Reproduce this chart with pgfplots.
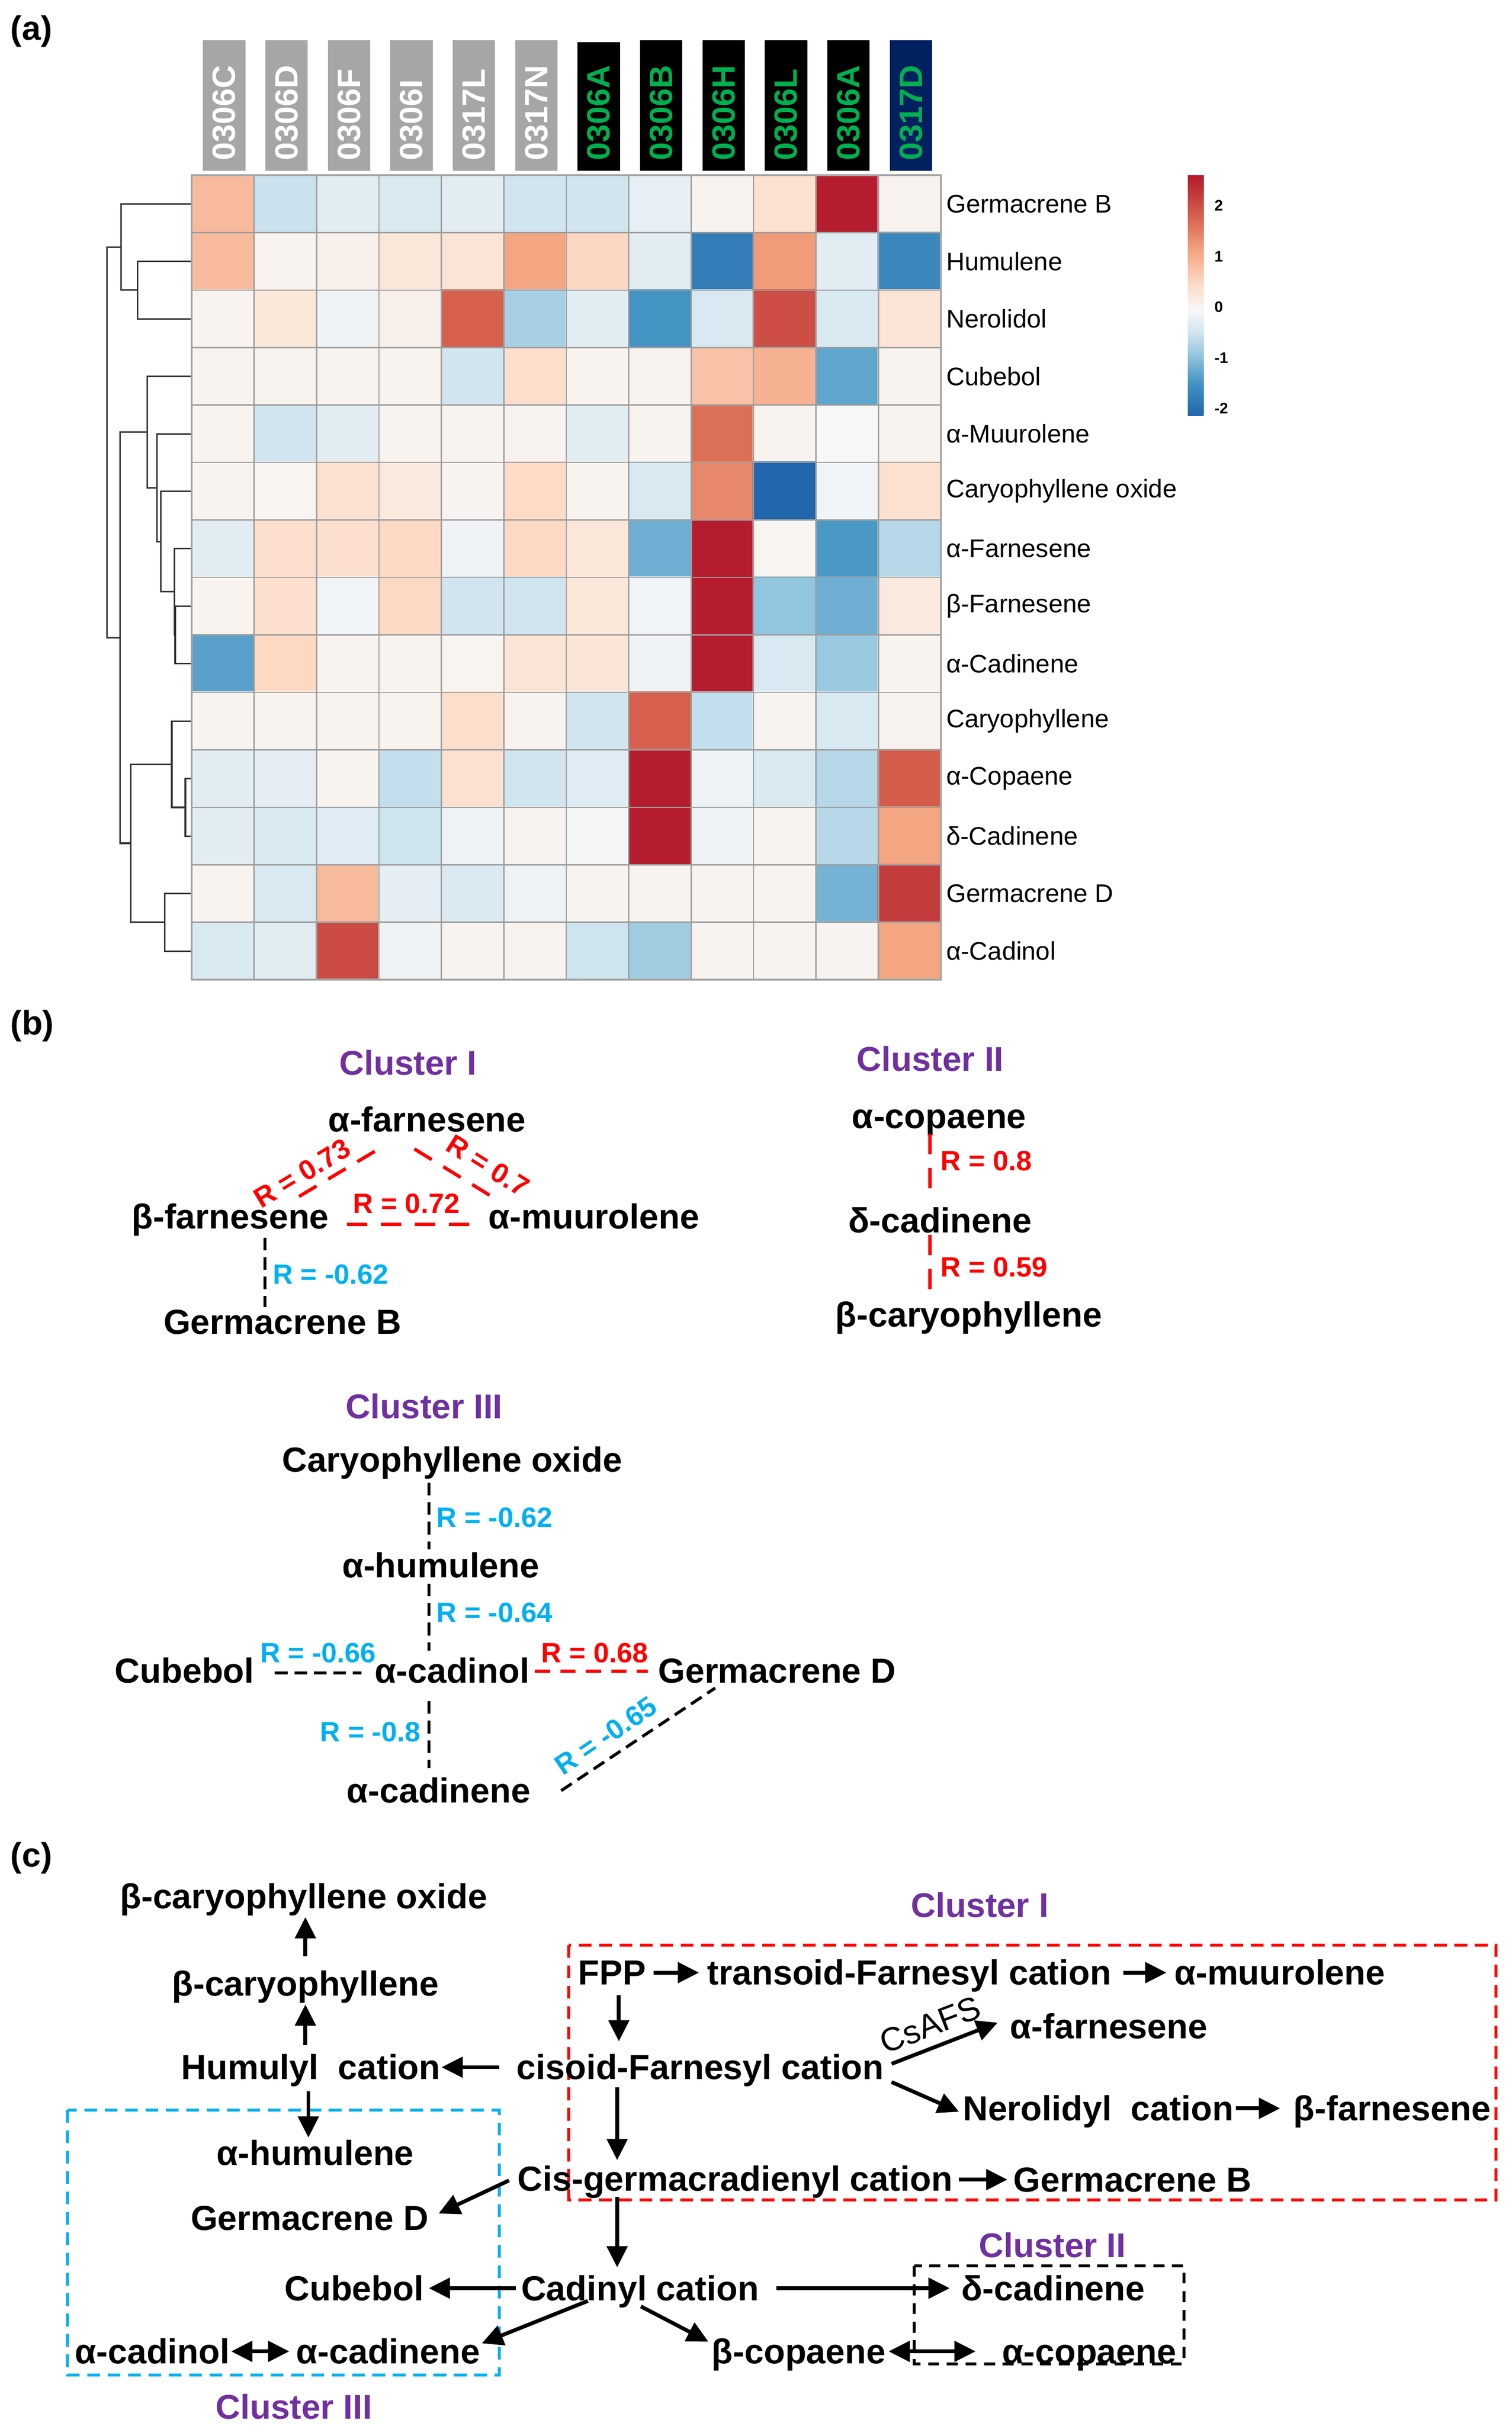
\documentclass[border=0pt]{standalone}
\usepackage{fontspec}
\setmainfont{Liberation Sans}
\usepackage{pgfplots}
\pgfplotsset{compat=1.18}
\usetikzlibrary{arrows.meta}
\definecolor{hgray}{HTML}{A6A6A6}
\definecolor{hgreen}{HTML}{00B050}
\definecolor{hnavy}{HTML}{002060}
\definecolor{cpurple}{HTML}{7030A0}
\definecolor{ccyan}{HTML}{00B0F0}
\definecolor{cred}{HTML}{FF0000}
\pgfplotsset{colormap={rdbu}{rgb255(0)=(33,102,172) rgb255(64)=(67,147,195) rgb255(119)=(146,197,222) rgb255(164)=(209,229,240) rgb255(209)=(247,247,247) rgb255(259)=(253,219,199) rgb255(324)=(244,165,130) rgb255(394)=(214,96,77) rgb255(475)=(178,24,43)}}
\begin{document}
\begin{tikzpicture}[
  nm/.style={font=\fontsize{8.2}{9.8}\selectfont\bfseries, anchor=base, inner sep=0pt},
  cl/.style={font=\fontsize{8.1}{9.7}\selectfont\bfseries, anchor=base, inner sep=0pt, text=cpurple},
  rl/.style={font=\fontsize{6.6}{7.9}\selectfont\bfseries, inner sep=0pt},
  pl/.style={font=\fontsize{8}{9.6}\selectfont\bfseries, anchor=base west, inner sep=0pt},
  hd/.style={font=\fontsize{7.6}{9}\selectfont\bfseries, rotate=90, anchor=west, inner sep=0pt},
  rdash/.style={cred, line width=0.8pt, dash pattern=on 4.8pt off 3.2pt},
  kdash/.style={black, line width=0.7pt, dash pattern=on 3pt off 1.6pt},
  arr/.style={black, line width=0.9pt, -{Triangle[length=5pt,width=4.8pt]}},
  darr/.style={black, line width=0.9pt, {Triangle[length=5pt,width=4.8pt]}-{Triangle[length=5pt,width=4.8pt]}},
  dg/.style={color=gray!40!black, line width=0.35pt, solid, no marks},
]
\useasboundingbox (0,0) rectangle (356.4pt,572pt);
\begin{axis}[at={(0,0)}, anchor=south west, width=356.4pt, height=572pt, scale only axis,
  xmin=0, xmax=3564, ymin=0, ymax=5720, y dir=reverse, hide axis, clip=false]
% ---------- dendrogram ----------
\addplot[dg] coordinates {(452,616.3)(324,616.3)(324,751.8)(452,751.8)};
\addplot[dg] coordinates {(452,480.8)(285,480.8)(285,684)(324,684)};
\addplot[dg] coordinates {(452,1429.3)(413,1429.3)(413,1564.8)(452,1564.8)};
\addplot[dg] coordinates {(452,1293.8)(411,1293.8)(411,1497)(413,1497)};
\addplot[dg] coordinates {(452,1158.3)(379,1158.3)(379,1395.4)(411,1395.4)};
\addplot[dg] coordinates {(452,1022.8)(370,1022.8)(370,1276.9)(379,1276.9)};
\addplot[dg] coordinates {(452,887.3)(347,887.3)(347,1149.8)(370,1149.8)};
\addplot[dg] coordinates {(452,1835.8)(437,1835.8)(437,1971.3)(452,1971.3)};
\addplot[dg] coordinates {(452,1700.3)(405,1700.3)(405,1903.6)(437,1903.6)};
\addplot[dg] coordinates {(452,2106.8)(388,2106.8)(388,2242.3)(452,2242.3)};
\addplot[dg] coordinates {(405,1802)(308,1802)(308,2174.6)(388,2174.6)};
\addplot[dg] coordinates {(347,1018.6)(283,1018.6)(283,1988.3)(308,1988.3)};
\addplot[dg] coordinates {(285,582.4)(252,582.4)(252,1503.5)(283,1503.5)};
% ---------- panel labels ----------
\node[pl] at (axis cs:23,94) {(a)};
\node[pl] at (axis cs:23,2440) {(b)};
\node[pl] at (axis cs:23,4402) {(c)};
% ---------- header boxes ----------
\fill[hgray] (axis cs:478.6,95) rectangle (axis cs:578.6,403);
\fill[hgray] (axis cs:625.8,95) rectangle (axis cs:725.8,403);
\fill[hgray] (axis cs:772.9,95) rectangle (axis cs:872.9,403);
\fill[hgray] (axis cs:920.1,95) rectangle (axis cs:1020.1,403);
\fill[hgray] (axis cs:1067.3,95) rectangle (axis cs:1167.3,403);
\fill[hgray] (axis cs:1214.4,95) rectangle (axis cs:1314.4,403);
\fill[black] (axis cs:1361.6,100) rectangle (axis cs:1461.6,403);
\fill[black] (axis cs:1508.8,95) rectangle (axis cs:1608.8,403);
\fill[black] (axis cs:1656.0,95) rectangle (axis cs:1756.0,403);
\fill[black] (axis cs:1803.1,95) rectangle (axis cs:1903.1,403);
\fill[black] (axis cs:1950.3,95) rectangle (axis cs:2050.3,403);
\fill[hnavy] (axis cs:2097.5,95) rectangle (axis cs:2197.5,403);
\node[hd, text=white] at (axis cs:528.6,380) {0306C};
\node[hd, text=white] at (axis cs:675.8,380) {0306D};
\node[hd, text=white] at (axis cs:822.9,380) {0306F};
\node[hd, text=white] at (axis cs:970.1,380) {0306I};
\node[hd, text=white] at (axis cs:1117.3,380) {0317L};
\node[hd, text=white] at (axis cs:1264.4,380) {0317N};
\node[hd, text=hgreen] at (axis cs:1411.6,380) {0306A};
\node[hd, text=hgreen] at (axis cs:1558.8,380) {0306B};
\node[hd, text=hgreen] at (axis cs:1706.0,380) {0306H};
\node[hd, text=hgreen] at (axis cs:1853.1,380) {0306L};
\node[hd, text=hgreen] at (axis cs:2000.3,380) {0306A};
\node[hd, text=hgreen] at (axis cs:2147.5,380) {0317D};
% ---------- panel b : cluster I ----------
\node[cl] at (axis cs:962,2534) {Cluster I};
\node[nm] at (axis cs:1007,2668) {α-farnesene};
\node[nm] at (axis cs:543,2897) {β-farnesene};
\node[nm] at (axis cs:1400,2897) {α-muurolene};
\node[nm] at (axis cs:666,3145) {Germacrene B};
\draw[rdash] (axis cs:705,2821) -- (axis cs:898,2706);
\draw[rdash] (axis cs:977,2709) -- (axis cs:1159,2821);
\draw[rdash] (axis cs:818,2887) -- (axis cs:1118,2887);
\draw[kdash] (axis cs:625,2918) -- (axis cs:625,3082);
\node[rl, text=cred, rotate=31] at (axis cs:712,2766) {R = 0.73};
\node[rl, text=cred, rotate=-32] at (axis cs:1150,2748) {R = 0.7};
\node[rl, text=cred, anchor=base] at (axis cs:958,2861) {R = 0.72};
\node[rl, text=ccyan, anchor=base west] at (axis cs:641,3027) {R = -0.62};
% ---------- panel b : cluster II ----------
\node[cl] at (axis cs:2193,2525) {Cluster II};
\node[nm] at (axis cs:2214,2660) {α-copaene};
\node[nm] at (axis cs:2216,2906) {δ-cadinene};
\node[nm] at (axis cs:2284,3128) {β-caryophyllene};
\draw[rdash] (axis cs:2193,2674) -- (axis cs:2193,2806);
\draw[rdash] (axis cs:2193,2912) -- (axis cs:2193,3045);
\node[rl, text=cred, anchor=base west] at (axis cs:2216,2760) {R = 0.8};
\node[rl, text=cred, anchor=base west] at (axis cs:2216,3010) {R = 0.59};
% ---------- panel b : cluster III ----------
\node[cl] at (axis cs:1000,3345) {Cluster III};
\node[nm] at (axis cs:1066,3470) {Caryophyllene oxide};
\node[nm] at (axis cs:1039,3720) {α-humulene};
\node[nm] at (axis cs:435,3968) {Cubebol};
\node[nm] at (axis cs:1066,3968) {α-cadinol};
\node[nm] at (axis cs:1832,3968) {Germacrene D};
\node[nm] at (axis cs:1034,4250) {α-cadinene};
\draw[kdash] (axis cs:1011,3496) -- (axis cs:1011,3653);
\draw[kdash] (axis cs:1011,3734) -- (axis cs:1011,3892);
\draw[kdash] (axis cs:1011,4011) -- (axis cs:1011,4169);
\draw[kdash] (axis cs:648,3944) -- (axis cs:852,3944);
\draw[cred, line width=0.8pt, dash pattern=on 3.6pt off 2.4pt] (axis cs:1261,3941) -- (axis cs:1527,3941);
\draw[kdash] (axis cs:1323,4222) -- (axis cs:1686,3980);
\node[rl, text=ccyan, anchor=base west] at (axis cs:1027,3601) {R = -0.62};
\node[rl, text=ccyan, anchor=base west] at (axis cs:1027,3825) {R = -0.64};
\node[rl, text=ccyan, anchor=base east] at (axis cs:993,4106) {R = -0.8};
\node[rl, text=ccyan, anchor=base] at (axis cs:750,3920) {R = -0.66};
\node[rl, text=cred, anchor=base] at (axis cs:1402,3920) {R = 0.68};
\node[rl, text=ccyan, rotate=34] at (axis cs:1428,4092) {R = -0.65};
% ---------- panel c ----------
\draw[ccyan, line width=0.7pt, dash pattern=on 3pt off 1.8pt] (axis cs:159,4975) rectangle (axis cs:1177,5600);
\draw[cred, line width=0.7pt, dash pattern=on 3pt off 1.8pt] (axis cs:1341,4586) rectangle (axis cs:3527,5187);
\draw[black, line width=0.7pt, dash pattern=on 2.6pt off 1.8pt] (axis cs:2155,5342) rectangle (axis cs:2791,5573);
\node[cl] at (axis cs:2310,4520) {Cluster I};
\node[cl] at (axis cs:2481,5322) {Cluster II};
\node[cl] at (axis cs:693,5703) {Cluster III};
\node[nm] at (axis cs:716,4500) {β-caryophyllene oxide};
\node[nm] at (axis cs:720,4706) {β-caryophyllene};
\node[nm] at (axis cs:733,4903) {Humulyl~~cation};
\node[nm] at (axis cs:1651,4903) {cisoid-Farnesyl cation};
\node[nm] at (axis cs:743,5105) {α-humulene};
\node[nm] at (axis cs:730,5258) {Germacrene D};
\node[nm] at (axis cs:1733,5166) {Cis-germacradienyl cation};
\node[nm] at (axis cs:2670,5168) {Germacrene B};
\node[nm] at (axis cs:1443,4680) {FPP};
\node[nm] at (axis cs:2144,4680) {transoid-Farnesyl cation};
\node[nm] at (axis cs:3017,4680) {α-muurolene};
\node[nm] at (axis cs:2614,4806) {α-farnesene};
\node[nm] at (axis cs:2589,5000) {Nerolidyl~~cation};
\node[nm] at (axis cs:3282,5000) {β-farnesene};
\node[nm] at (axis cs:1509,5424) {Cadinyl cation};
\node[nm] at (axis cs:835,5424) {Cubebol};
\node[nm] at (axis cs:2483,5424) {δ-cadinene};
\node[nm] at (axis cs:359,5573) {α-cadinol};
\node[nm] at (axis cs:915,5573) {α-cadinene};
\node[nm] at (axis cs:1883,5573) {β-copaene};
\node[nm] at (axis cs:2568,5573) {α-copaene};
\node[font=\fontsize{7.8}{9}\selectfont, rotate=21, inner sep=0pt] at (axis cs:2193,4774) {CsAFS};
\draw[arr] (axis cs:720,4612) -- (axis cs:720,4520);
\draw[arr] (axis cs:720,4822) -- (axis cs:720,4726);
\draw[arr] (axis cs:1177,4874) -- (axis cs:1041,4874);
\draw[arr] (axis cs:727,4931) -- (axis cs:727,5040);
\draw[arr] (axis cs:1541,4651) -- (axis cs:1648,4651);
\draw[arr] (axis cs:2648,4651) -- (axis cs:2750,4651);
\draw[arr] (axis cs:1459,4704) -- (axis cs:1459,4813);
\draw[arr] (axis cs:2102,4866) -- (axis cs:2352,4769);
\draw[arr] (axis cs:2102,4909) -- (axis cs:2261,4979);
\draw[arr] (axis cs:2914,4971) -- (axis cs:3018,4971);
\draw[arr] (axis cs:1455,4922) -- (axis cs:1455,5093);
\draw[arr] (axis cs:1200,5141) -- (axis cs:1034,5219);
\draw[arr] (axis cs:2261,5139) -- (axis cs:2375,5139);
\draw[arr] (axis cs:1455,5180) -- (axis cs:1455,5346);
\draw[arr] (axis cs:1216,5395) -- (axis cs:1011,5395);
\draw[arr] (axis cs:1830,5395) -- (axis cs:2239,5395);
\draw[arr] (axis cs:1386,5425) -- (axis cs:1136,5525);
\draw[arr] (axis cs:1511,5438) -- (axis cs:1670,5521);
\draw[darr] (axis cs:545,5544) -- (axis cs:682,5544);
\draw[darr] (axis cs:2095,5544) -- (axis cs:2300,5544);
\end{axis}
% ---------- heatmap ----------
\begin{axis}[at={(45.2pt,530.7pt)}, anchor=north west,
  width=176.6pt, height=189.7pt, scale only axis,
  xmin=-0.5, xmax=11.5, ymin=-0.5, ymax=13.5, y dir=reverse,
  xtick=\empty,
  extra x ticks={-0.5,0.5,...,11.5},
  extra x tick labels={},
  extra x tick style={xmajorgrids=true},
  ytick={0,...,13},
  yticklabels={Germacrene B,Humulene,Nerolidol,Cubebol,α-Muurolene,Caryophyllene oxide,α-Farnesene,β-Farnesene,α-Cadinene,Caryophyllene,α-Copaene,δ-Cadinene,Germacrene D,α-Cadinol},
  yticklabel pos=right,
  yticklabel style={font=\fontsize{6}{7}\selectfont, anchor=west, inner sep=0pt, xshift=1.1pt},
  extra y ticks={-0.5,0.5,...,13.5},
  extra y tick labels={},
  extra y tick style={ymajorgrids=true},
  major tick length=0pt,
  major grid style={color=gray!75, line width=0.3pt},
  axis line style={color=gray!60, line width=0.5pt},
  axis on top,
  point meta min=-2.14, point meta max=2.61,
  colormap name=rdbu,
  colorbar,
  colorbar style={
    at={(parent axis.north east)}, anchor=north west, xshift=49.7pt, yshift=0.1pt,
    width=3.7pt, height=56.8pt, scale only axis,
    ytick={-2,-1,0,1,2}, yticklabels={-2,-1,0,1,2},
    yticklabel style={font=\fontsize{3.6}{4}\selectfont\bfseries, inner sep=0pt, xshift=2.4pt},
    major tick length=0pt, grid=none,
    axis line style={draw=none},
  },
]
\addplot[matrix plot*, mesh/cols=12, point meta=explicit] table[meta=v] {
x y v
0 0 0.85
1 0 -0.55
2 0 -0.3
3 0 -0.4
4 0 -0.3
5 0 -0.5
6 0 -0.5
7 0 -0.25
8 0 0.03
9 0 0.35
10 0 2.55
11 0 0.03
0 1 0.85
1 1 0.03
2 1 0.08
3 1 0.25
4 1 0.3
5 1 1.1
6 1 0.5
7 1 -0.3
8 1 -1.8
9 1 1.2
10 1 -0.3
11 1 -1.65
0 2 0.03
1 2 0.25
2 2 -0.15
3 2 0.08
4 2 1.8
5 2 -0.8
6 2 -0.3
7 2 -1.5
8 2 -0.4
9 2 2.0
10 2 -0.4
11 2 0.3
0 3 0.03
1 3 0.03
2 3 0.03
3 3 0.03
4 3 -0.5
5 3 0.4
6 3 0.03
7 3 0.03
8 3 0.75
9 3 0.95
10 3 -1.3
11 3 0.03
0 4 0.03
1 4 -0.5
2 4 -0.3
3 4 0.03
4 4 0.03
5 4 0.02
6 4 -0.3
7 4 0.03
8 4 1.65
9 4 0.03
10 4 -0.05
11 4 0.03
0 5 0.03
1 5 0.0
2 5 0.35
3 5 0.2
4 5 0.02
5 5 0.45
6 5 0.03
7 5 -0.4
8 5 1.4
9 5 -2.12
10 5 -0.12
11 5 0.35
0 6 -0.3
1 6 0.38
2 6 0.38
3 6 0.48
4 6 -0.15
5 6 0.48
6 6 0.25
7 6 -1.2
8 6 2.55
9 6 0.0
10 6 -1.45
11 6 -0.7
0 7 0.03
1 7 0.38
2 7 -0.12
3 7 0.48
4 7 -0.5
5 7 -0.5
6 7 0.25
7 7 -0.12
8 7 2.55
9 7 -0.95
10 7 -1.2
11 7 0.2
0 8 -1.35
1 8 0.48
2 8 0.03
3 8 0.03
4 8 0.01
5 8 0.3
6 8 0.28
7 8 -0.15
8 8 2.55
9 8 -0.4
10 8 -0.9
11 8 0.03
0 9 0.03
1 9 0.03
2 9 0.03
3 9 0.03
4 9 0.4
5 9 0.03
6 9 -0.5
7 9 1.8
8 9 -0.6
9 9 0.03
10 9 -0.4
11 9 0.03
0 10 -0.3
1 10 -0.28
2 10 0.03
3 10 -0.6
4 10 0.35
5 10 -0.5
6 10 -0.32
7 10 2.55
8 10 -0.18
9 10 -0.4
10 10 -0.7
11 10 1.85
0 11 -0.3
1 11 -0.4
2 11 -0.32
3 11 -0.52
4 11 -0.15
5 11 0.02
6 11 -0.1
7 11 2.55
8 11 -0.18
9 11 0.03
10 11 -0.7
11 11 1.1
0 12 0.03
1 12 -0.4
2 12 0.85
3 12 -0.28
4 12 -0.38
5 12 -0.18
6 12 0.03
7 12 0.03
8 12 0.03
9 12 0.03
10 12 -1.15
11 12 2.2
0 13 -0.4
1 13 -0.3
2 13 2.05
3 13 -0.15
4 13 0.03
5 13 0.03
6 13 -0.52
7 13 -0.85
8 13 0.03
9 13 0.03
10 13 0.02
11 13 1.1
};
\end{axis}
\end{tikzpicture}
\end{document}
